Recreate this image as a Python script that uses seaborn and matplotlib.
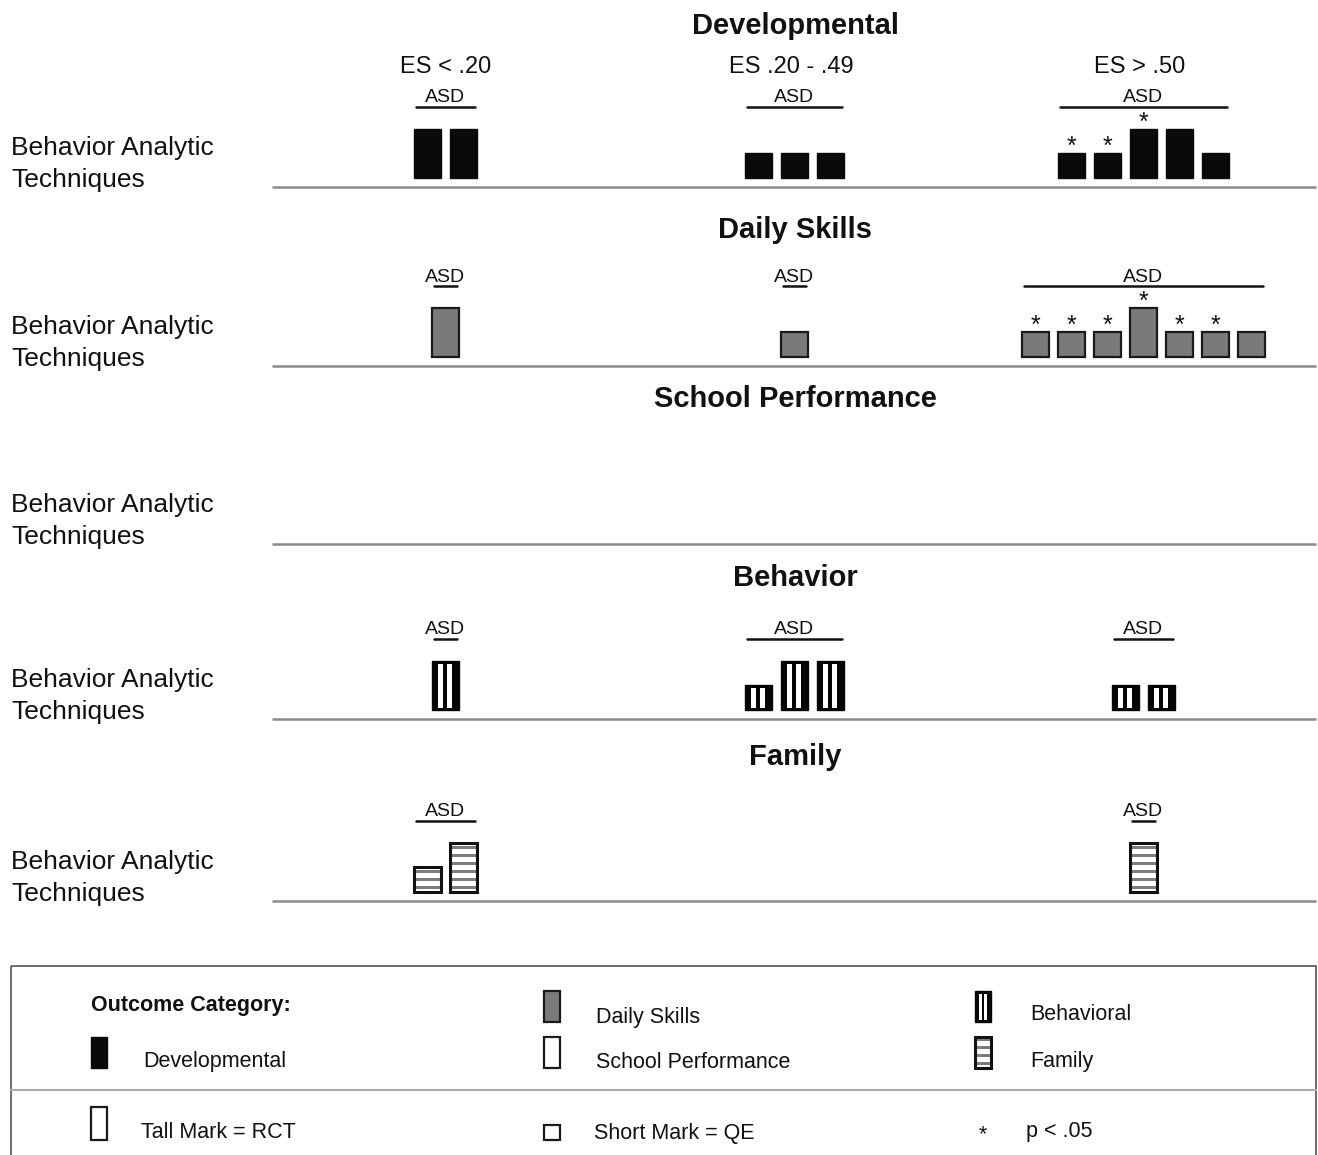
import numpy as np
import pandas as pd
import matplotlib
matplotlib.use("Agg")
import matplotlib.pyplot as plt
from matplotlib.patches import Rectangle
import seaborn as sns

sns.set_theme(style="white")
plt.rcParams["font.family"] = ["Liberation Sans", "DejaVu Sans"]

# ---- data -------------------------------------------------------------
outcomes = ["Developmental", "Daily Skills", "School Performance", "Behavior", "Family"]
es_bins = ["ES < .20", "ES .20 - .49", "ES > .50"]
row_label = "Behavior Analytic\nTechniques"
population = "ASD"

# study design per effect-size bin ("RCT" = tall mark, "QE" = short mark)
dev_design = [["RCT", "RCT"], ["QE", "QE", "QE"], ["QE", "QE", "RCT", "RCT", "QE"]]
dev_sig = [[0, 0], [0, 0, 0], [1, 1, 1, 0, 0]]
daily_design = [["RCT"], ["QE"], ["QE", "QE", "QE", "RCT", "QE", "QE", "QE"]]
daily_sig = [[0], [0], [1, 1, 1, 1, 1, 1, 0]]
school_design = [[], [], []]
school_sig = [[], [], []]
behav_design = [["RCT"], ["QE", "RCT", "RCT"], ["QE", "QE"]]
behav_sig = [[0], [0, 0, 0], [0, 0]]
family_design = [["QE", "RCT"], [], ["RCT"]]
family_sig = [[0, 0], [], [0]]

designs = [dev_design, daily_design, school_design, behav_design, family_design]
sigs = [dev_sig, daily_sig, school_sig, behav_sig, family_sig]
styles = ["solid", "gray", "open", "vstripe", "hstripe"]

rows = []
for oi, (o, dz, sg) in enumerate(zip(outcomes, designs, sigs)):
    for bi, (d_list, s_list) in enumerate(zip(dz, sg)):
        for k, (d, s) in enumerate(zip(d_list, s_list)):
            rows.append(dict(outcome=o, panel=oi, es=es_bins[bi], col=bi,
                             pos=k, n=len(d_list), design=d, sig=s))
studies = pd.DataFrame(rows)

# ---- layout (pixel space) ---------------------------------------------
W, H = 1318, 1155
baselines = [187, 366, 544, 719, 901]
title_y = [26, 230, 399, 578, 757]
col_x = [445, 794, 1143]
header_x = [446, 791, 1140]
bar_w, pitch = 27, 36
tall_h, short_h = 49, 25
gap = 9
heights = {"RCT": tall_h, "QE": short_h}

fig = plt.figure(figsize=(W / 100, H / 100), dpi=100)
ax = fig.add_axes([0, 0, 1, 1])
ax.set_xlim(0, W)
ax.set_ylim(H, 0)
ax.axis("off")


def draw_mark(ax, x, bottom, h, w, style):
    """Draw one study mark centred at x, rising h pixels from bottom."""
    left = x - w / 2
    if style == "solid":
        ax.bar(x, -h, width=w, bottom=bottom, color="#0a0a0a", edgecolor="#0a0a0a", linewidth=1)
    elif style == "gray":
        ax.bar(x, -h, width=w, bottom=bottom, color="#7a7a7a", edgecolor="#1a1a1a", linewidth=1.6)
    elif style == "open":
        ax.bar(x, -h, width=w, bottom=bottom, color="white", edgecolor="#1a1a1a", linewidth=1.6)
    elif style == "vstripe":
        ax.bar(x, -h, width=w, bottom=bottom, color="#050505", edgecolor="#050505", linewidth=1)
        sw = w * 0.17
        for f in (0.33, 0.66):
            ax.bar(left + f * w, -(h - 5), width=sw, bottom=bottom - 2.5,
                   color="white", linewidth=0)
    elif style == "hstripe":
        ax.bar(x, -h, width=w, bottom=bottom, color="white", linewidth=0)
        for yb in np.arange(bottom - 3, bottom - h + 2, -8.0):
            ax.bar(x, -3.5, width=w, bottom=yb, color="#7d7d7d", linewidth=0)
        ax.add_patch(Rectangle((left, bottom - h), w, h, fill=False,
                               edgecolor="#111111", linewidth=2.2))


for oi, o in enumerate(outcomes):
    base = baselines[oi]
    ax.text(795, title_y[oi], o, ha="center", va="center", fontsize=21, fontweight="bold", color="#111111")
    ax.text(11, base - 23, row_label, ha="left", va="center", fontsize=19,
            linespacing=1.38, color="#111111")
    ax.plot([272, 1316], [base, base], color="#8a8a8a", linewidth=1.8, solid_capstyle="butt")

    sub = studies[studies.panel == oi]
    for bi in range(len(es_bins)):
        grp = sub[sub.col == bi]
        if grp.empty:
            continue
        n = len(grp)
        xs = col_x[bi] + (grp.pos.to_numpy() - (n - 1) / 2) * pitch
        bottom = base - gap
        for x, d, s in zip(xs, grp.design, grp.sig):
            h = heights[d]
            draw_mark(ax, x, bottom, h, bar_w, styles[oi])
            if s:
                ax.text(x, bottom - h + 1, "*", ha="center", va="baseline",
                        fontsize=18, color="#111111")
        gl = xs.min() - bar_w / 2 + 2
        gr = xs.max() + bar_w / 2 - 2
        ax.plot([gl, gr], [base - 80, base - 80], color="#111111", linewidth=1.8)
        ax.text((gl + gr) / 2, base - 89, population, ha="center", va="center",
                fontsize=14, color="#111111")

for bi, lab in enumerate(es_bins):
    ax.text(header_x[bi], 67, lab, ha="center", va="center", fontsize=17, color="#111111")

# ---- key --------------------------------------------------------------
ax.add_patch(Rectangle((11, 966), 1305, 200, fill=False, edgecolor="#555555", linewidth=1.2))
ax.plot([11, 1316], [1090, 1090], color="#aaaaaa", linewidth=1.5)
ax.text(91, 1005, "Outcome Category:", ha="left", va="center", fontsize=15.5,
        fontweight="bold", color="#111111")

key_items = [("Developmental", "solid", 99, 1068, 143, 1062),
             ("Daily Skills", "gray", 552, 1022, 596, 1017),
             ("School Performance", "open", 552, 1068, 596, 1062),
             ("Behavioral", "vstripe", 983, 1022, 1030, 1015),
             ("Family", "hstripe", 983, 1068, 1030, 1062)]
for lab, st, mx, mb, tx, ty in key_items:
    draw_mark(ax, mx, mb, 31, 16, st)
    ax.text(tx, ty, lab, ha="left", va="center", fontsize=15.5, color="#111111")

draw_mark(ax, 99, 1140, 33, 16, "open")
ax.text(141, 1133, "Tall Mark = RCT", ha="left", va="center", fontsize=15.5, color="#111111")
draw_mark(ax, 552, 1140, 15, 16, "open")
ax.text(594, 1133, "Short Mark = QE", ha="left", va="center", fontsize=15.5, color="#111111")
ax.text(983, 1140, "*", ha="center", va="baseline", fontsize=15.5, color="#111111")
ax.text(1026, 1131, "p < .05", ha="left", va="center", fontsize=15.5, color="#111111")

fig.savefig("out.png", dpi=100, facecolor="white")
